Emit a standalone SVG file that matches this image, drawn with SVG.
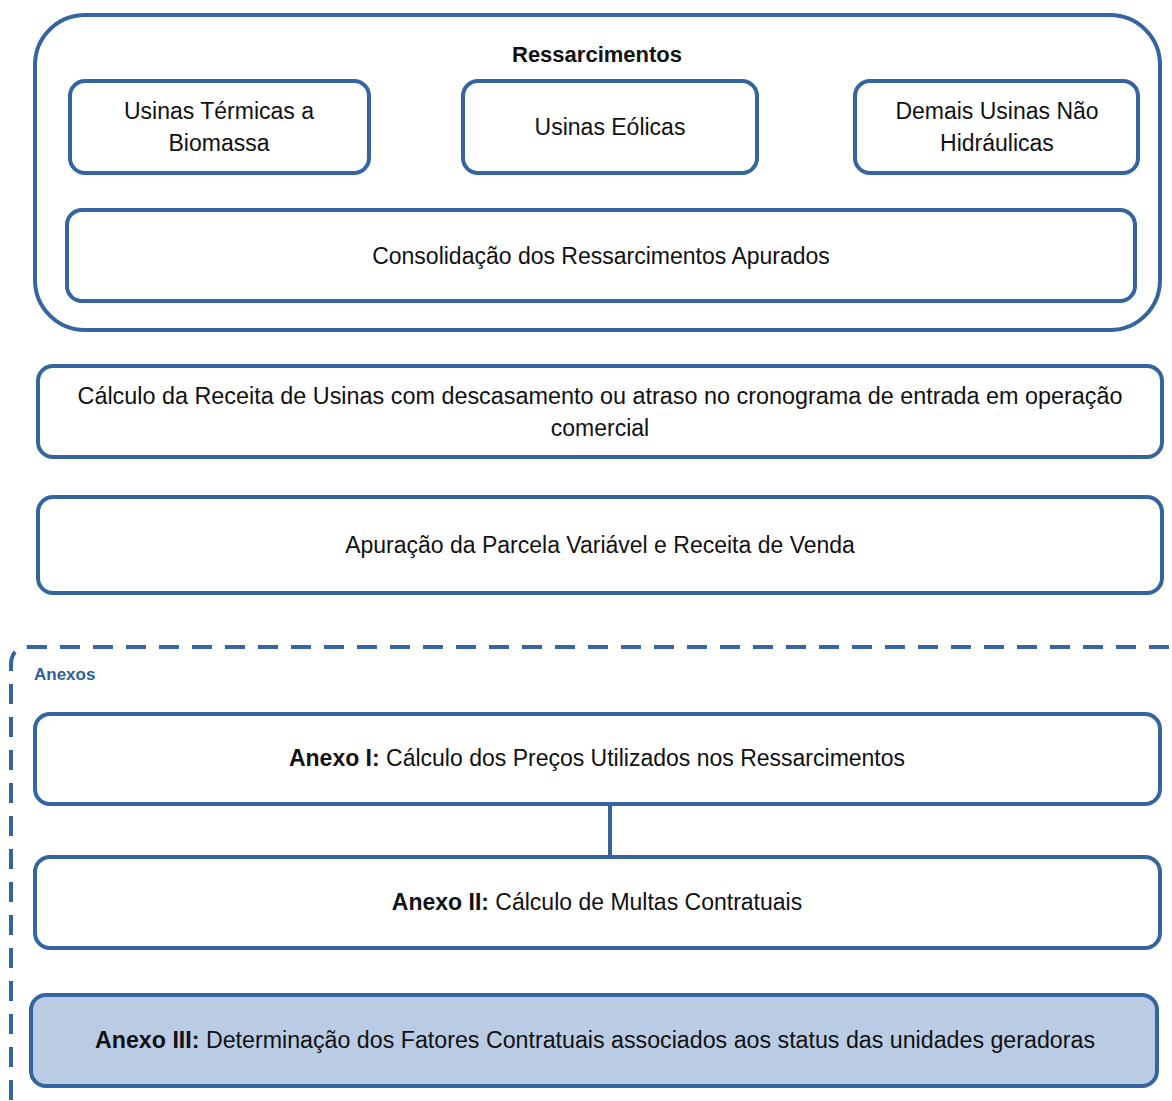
<svg xmlns="http://www.w3.org/2000/svg" width="1172" height="1101" viewBox="0 0 1172 1101">
<style>
.box{fill:#ffffff;stroke:#3465a0;stroke-width:4}
.hl{fill:#b9cce4;stroke:#3465a0;stroke-width:4}
.t{font-family:"Liberation Sans",Arial,sans-serif;font-size:23px;fill:#111;text-anchor:middle}
.b{font-weight:bold}
.conn{stroke:#3465a0;stroke-width:4;fill:none}
</style>
<rect width="1172" height="1101" fill="#ffffff"/>
<g id="ressarcimentos">
<rect class="box" x="35" y="15" width="1125" height="315" rx="50"/>
<text class="t b" x="597" y="62" style="font-size:22px">Ressarcimentos</text>
</g>
<g id="termicas">
<rect class="box" x="70" y="81" width="299" height="92" rx="15"/>
<text class="t" x="219" y="119">Usinas Térmicas a</text>
<text class="t" x="219" y="151">Biomassa</text>
</g>
<g id="eolicas">
<rect class="box" x="463" y="81" width="294" height="92" rx="15"/>
<text class="t" x="610" y="135">Usinas Eólicas</text>
</g>
<g id="demais">
<rect class="box" x="855" y="81" width="283" height="92" rx="15"/>
<text class="t" x="997" y="119">Demais Usinas Não</text>
<text class="t" x="997" y="151">Hidráulicas</text>
</g>
<g id="consolidacao">
<rect class="box" x="67" y="210" width="1068" height="91" rx="15"/>
<text class="t" x="601" y="264">Consolidação dos Ressarcimentos Apurados</text>
</g>
<g id="receita">
<rect class="box" x="38" y="366" width="1124" height="91" rx="15"/>
<text class="t" x="600" y="404" textLength="1045" lengthAdjust="spacingAndGlyphs">Cálculo da Receita de Usinas com descasamento ou atraso no cronograma de entrada em operação</text>
<text class="t" x="600" y="436">comercial</text>
</g>
<g id="apuracao">
<rect class="box" x="38" y="497" width="1124" height="96" rx="15"/>
<text class="t" x="600" y="553">Apuração da Parcela Variável e Receita de Venda</text>
</g>
<g id="anexos">
<path class="conn" d="M11,1100 L11,665 Q11,647 29,647 L1172,647" stroke-dasharray="20,13"/>
<text x="34" y="680" style="font-family:'Liberation Sans',Arial,sans-serif;font-size:17px;font-weight:bold;fill:#2f5f98">Anexos</text>
</g>
<g id="connectors">
<line class="conn" x1="610" y1="804" x2="610" y2="857"/>
</g>
<g id="anexo1">
<rect class="box" x="35" y="714" width="1125" height="90" rx="15"/>
<text class="t" x="597" y="766"><tspan class="b">Anexo I:</tspan> Cálculo dos Preços Utilizados nos Ressarcimentos</text>
</g>
<g id="anexo2">
<rect class="box" x="35" y="857" width="1125" height="91" rx="15"/>
<text class="t" x="597" y="910"><tspan class="b">Anexo II:</tspan> Cálculo de Multas Contratuais</text>
</g>
<g id="anexo3">
<rect class="hl" x="31" y="995" width="1126" height="91" rx="15"/>
<text class="t" x="595" y="1048" textLength="1000" lengthAdjust="spacingAndGlyphs"><tspan class="b">Anexo III:</tspan> Determinação dos Fatores Contratuais associados aos status das unidades geradoras</text>
</g>
</svg>
